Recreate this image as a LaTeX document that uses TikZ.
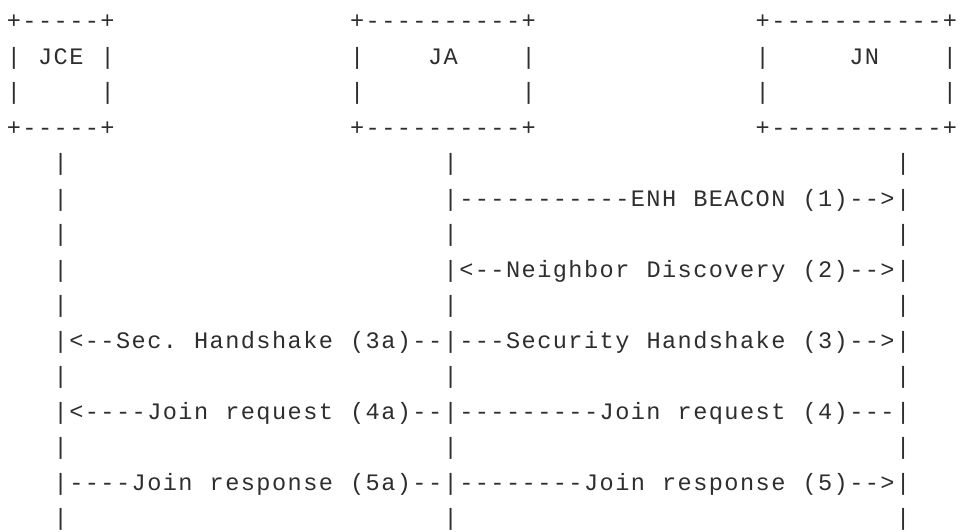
\documentclass[tikz,border=0pt]{standalone}
\usepackage{fontspec}
\setmonofont[LetterSpace=6.09]{Liberation Mono}
\usepackage{tikz}
\definecolor{ink}{HTML}{2E2E2E}
\tikzset{asc/.style={font=\ttfamily\fontsize{11.8pt}{13pt}\selectfont,text=ink,anchor=base west,inner sep=0pt,outer sep=0pt},
}

\begin{document}
\begin{tikzpicture}[x=7.8pt,y=-17.75pt]
\useasboundingbox (-3.46pt,-3.5pt) rectangle (476.54pt,-269pt);

%% boxes
\foreach \r in {1,4} {
	\node[asc] (jce-edge-\r) at (0,\r) {+-----+};
	\node[asc] (ja-edge-\r) at (22,\r) {+----------+};
	\node[asc] (jn-edge-\r) at (48,\r) {+-----------+};
}
\foreach \r in {2,3} {
	\foreach \c/\n in {0/jce-l,6/jce-r,22/ja-l,33/ja-r,48/jn-l,60/jn-r}
		\node[asc] (\n-\r) at (\c,\r) {|};
}
\node[asc] (jce) at (2,2) {JCE};
\node[asc] (ja) at (27,2) {JA};
\node[asc] (jn) at (54,2) {JN};

%% life lines
\foreach \r in {5,7,...,15} {
	\foreach \c/\n in {3/jce,28/ja,57/jn}
		\node[asc] (\n-\r) at (\c,\r) {|};
}
\foreach \r in {6,8}
	\node[asc] (jce-\r) at (3,\r) {|};

%% messages
\node[asc] (beacon-a) at (28,6) {|-----------ENH};
\node[asc] (beacon-b) at (44,6) {BEACON};
\node[asc] (beacon-c) at (51,6) {(1)-->|};

\node[asc] (nd-a) at (28,8) {|<--Neighbor};
\node[asc] (nd-b) at (41,8) {Discovery};
\node[asc] (nd-c) at (51,8) {(2)-->|};

\node[asc] (hs-a) at (3,10) {|<--Sec.};
\node[asc] (hs-b) at (12,10) {Handshake};
\node[asc] (hs-c) at (22,10) {(3a)--|---Security};
\node[asc] (hs-d) at (41,10) {Handshake};
\node[asc] (hs-e) at (51,10) {(3)-->|};

\node[asc] (req-a) at (3,12) {|<----Join};
\node[asc] (req-b) at (14,12) {request};
\node[asc] (req-c) at (22,12) {(4a)--|---------Join};
\node[asc] (req-d) at (43,12) {request};
\node[asc] (req-e) at (51,12) {(4)---|};

\node[asc] (resp-a) at (3,14) {|----Join};
\node[asc] (resp-b) at (13,14) {response};
\node[asc] (resp-c) at (22,14) {(5a)--|--------Join};
\node[asc] (resp-d) at (42,14) {response};
\node[asc] (resp-e) at (51,14) {(5)-->|};
\end{tikzpicture}
\end{document}
